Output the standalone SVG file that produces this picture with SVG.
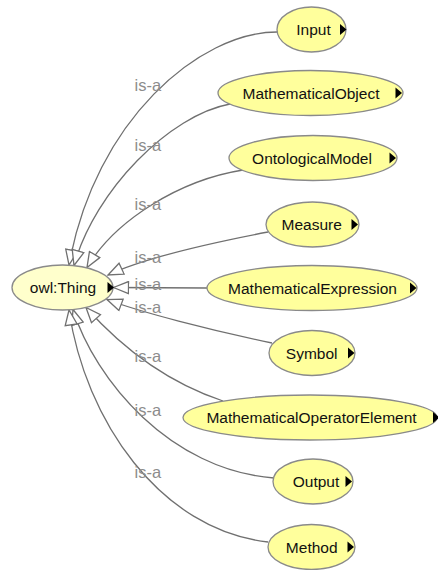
<svg xmlns="http://www.w3.org/2000/svg" width="438" height="570" viewBox="0 0 438 570">
  <style>
    .edge { fill: none; stroke: #707070; stroke-width: 1.3; }
    .node { fill: #ffff9c; stroke: #8a8a8a; stroke-width: 1.3; }
    .root { fill: #ffffcc; stroke: #8a8a8a; stroke-width: 1.3; }
    .name { font-family: "Liberation Sans", Arial, sans-serif; font-size: 15.5px; fill: #111; text-anchor: middle; }
    .lbl { font-family: "Liberation Sans", Arial, sans-serif; font-size: 16.5px; fill: #8c8c8c; }
    .more { fill: #000; }
  </style>
  <defs>
    <!-- open triangle for is-a (subclass) edges -->
    <marker id="isa" markerUnits="userSpaceOnUse" markerWidth="17" markerHeight="14" viewBox="0 0 17 14" refX="16" refY="7" orient="auto">
      <path d="M1,1 L16,7 L1,13 Z" fill="#fff" stroke="#707070" stroke-width="1.3"/>
    </marker>
  </defs>
  <rect width="438" height="570" fill="#fff"/>

  <g id="connectors">
    <path class="edge" marker-end="url(#isa)" d="M277,32 C200,32 95,120 69,265"/>
    <path class="edge" marker-end="url(#isa)" d="M230,104 C170,115 95,190 74,265.5"/>
    <path class="edge" marker-end="url(#isa)" d="M243,170 C180,180 115,220 87,267.5"/>
    <path class="edge" marker-end="url(#isa)" d="M268,232 C200,245 140,260 108,275"/>
    <path class="edge" marker-end="url(#isa)" d="M207,288 L113.5,287.5"/>
    <path class="edge" marker-end="url(#isa)" d="M272,343 C210,330 140,312 107,299.5"/>
    <path class="edge" marker-end="url(#isa)" d="M223,401 C160,380 115,340 86,307.5"/>
    <path class="edge" marker-end="url(#isa)" d="M274,478 C170,470 95,380 73,309.5"/>
    <path class="edge" marker-end="url(#isa)" d="M268,542 C160,530 85,420 69,310"/>
    <text class="lbl" x="134.5" y="91">is-a</text>
    <text class="lbl" x="134.5" y="151">is-a</text>
    <text class="lbl" x="134.5" y="210">is-a</text>
    <text class="lbl" x="134.5" y="263">is-a</text>
    <text class="lbl" x="134.5" y="290">is-a</text>
    <text class="lbl" x="134.5" y="313">is-a</text>
    <text class="lbl" x="134.5" y="361.5">is-a</text>
    <text class="lbl" x="134.5" y="416">is-a</text>
    <text class="lbl" x="134.5" y="478">is-a</text>
  </g>

  <g id="owlThing">
    <ellipse class="root" cx="62.5" cy="287.5" rx="50.5" ry="22.5"/>
    <text class="name" x="63" y="293">owl:Thing</text>
    <path class="more" d="M107.5,282 L114,287.5 L107.5,293 Z"/>
  </g>

  <g id="Input">
    <ellipse class="node" cx="311.5" cy="29.5" rx="34.5" ry="22.5"/>
    <text class="name" x="313.5" y="35">Input</text>
    <path class="more" d="M340,24 L346.5,29.5 L340,35 Z"/>
  </g>

  <g id="MathematicalObject">
    <ellipse class="node" cx="310.5" cy="93" rx="92.5" ry="22.5"/>
    <text class="name" x="311" y="98.5">MathematicalObject</text>
    <path class="more" d="M395.5,87.5 L402,93 L395.5,98.5 Z"/>
  </g>

  <g id="OntologicalModel">
    <ellipse class="node" cx="313" cy="158" rx="84" ry="22.5"/>
    <text class="name" x="312" y="163.5">OntologicalModel</text>
    <path class="more" d="M389.5,152.5 L396,158 L389.5,163.5 Z"/>
  </g>

  <g id="Measure">
    <ellipse class="node" cx="312.5" cy="224.5" rx="46.5" ry="22.5"/>
    <text class="name" x="311.7" y="230">Measure</text>
    <path class="more" d="M351.5,219 L358,224.5 L351.5,230 Z"/>
  </g>

  <g id="MathematicalExpression">
    <ellipse class="node" cx="312" cy="288" rx="105" ry="22.5"/>
    <text class="name" x="312.5" y="293.5">MathematicalExpression</text>
    <path class="more" d="M410,282.5 L416.5,288 L410,293.5 Z"/>
  </g>

  <g id="Symbol">
    <ellipse class="node" cx="312" cy="353" rx="43" ry="22.5"/>
    <text class="name" x="311.7" y="358.5">Symbol</text>
    <path class="more" d="M348,347.5 L354.5,353 L348,358.5 Z"/>
  </g>

  <g id="MathematicalOperatorElement">
    <ellipse class="node" cx="310" cy="417.5" rx="127" ry="22.5"/>
    <text class="name" x="311.5" y="423">MathematicalOperatorElement</text>
    <path class="more" d="M433,412 L439.5,417.5 L433,423 Z"/>
  </g>

  <g id="Output">
    <ellipse class="node" cx="313" cy="481.5" rx="40" ry="22.5"/>
    <text class="name" x="316" y="487">Output</text>
    <path class="more" d="M345.5,476 L352,481.5 L345.5,487 Z"/>
  </g>

  <g id="Method">
    <ellipse class="node" cx="311.5" cy="547" rx="43.5" ry="22.5"/>
    <text class="name" x="311.7" y="552.5">Method</text>
    <path class="more" d="M347.5,541.5 L354,547 L347.5,552.5 Z"/>
  </g>
</svg>
